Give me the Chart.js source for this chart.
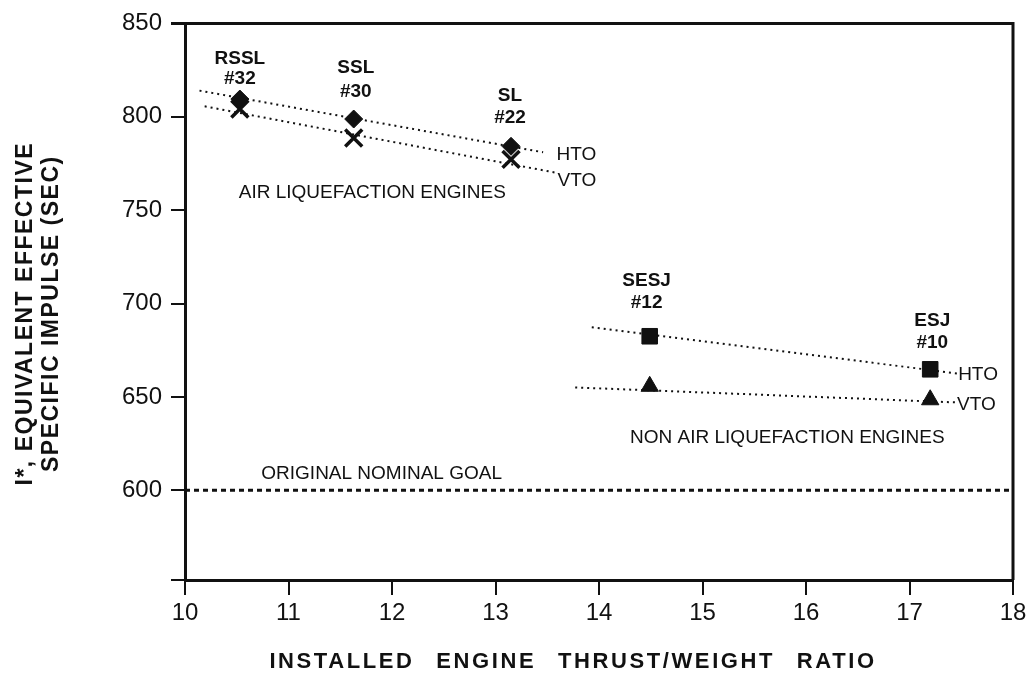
<!DOCTYPE html>
<html>
<head>
<meta charset="utf-8">
<script src="https://cdn.jsdelivr.net/npm/chart.js@4.4.1/dist/chart.umd.min.js"></script>
<style>
  html, body { margin: 0; padding: 0; background: #fff; }
  #wrap { width: 1034px; height: 675px; }
</style>
</head>
<body>
<div id="wrap"><canvas id="chart"></canvas></div>
<script>
// Axes
const xMin = 10, xMax = 18;
const yMin = 552, yMax = 850;
const xTicks = [10, 11, 12, 13, 14, 15, 16, 17, 18];
const yTicks = [600, 650, 700, 750, 800, 850];

// Air liquefaction engines (RSSL #32, SSL #30, SL #22)
const airRatio = [10.53, 11.63, 13.15];
const airHto = [809.5, 798.8, 784.2];
const airVto = [804.2, 788.6, 777.2];

// Non air liquefaction engines (SESJ #12, ESJ #10)
const nonAirRatio = [14.49, 17.2];
const nonAirHto = [682.5, 664.8];
const nonAirVto = [655.7, 648.5];

// Dotted trend lines (start, end)
const airHtoTrendX = [10.14, 13.46], airHtoTrendY = [814, 781];
const airVtoTrendX = [10.19, 13.57], airVtoTrendY = [805.6, 770.2];
const nonAirHtoTrendX = [13.93, 17.46], nonAirHtoTrendY = [687.3, 662.6];
const nonAirVtoTrendX = [13.77, 17.44], nonAirVtoTrendY = [655.1, 647.1];

// Original nominal goal
const goalValue = 600;

// Text placed in data units
const notes = [
    { text: 'RSSL', x: 10.53, y: 831.3, bold: true },
    { text: '#32', x: 10.53, y: 820.3, bold: true },
    { text: 'SSL', x: 11.65, y: 826.4, bold: true },
    { text: '#30', x: 11.65, y: 813.2, bold: true },
    { text: 'SL', x: 13.14, y: 811.5, bold: true },
    { text: '#22', x: 13.14, y: 799.7, bold: true },
    { text: 'SESJ', x: 14.46, y: 712.4, bold: true },
    { text: '#12', x: 14.46, y: 700.2, bold: true },
    { text: 'ESJ', x: 17.22, y: 691, bold: true },
    { text: '#10', x: 17.22, y: 679.2, bold: true },
    { text: 'HTO', x: 13.59, y: 779.9, align: 'left' },
    { text: 'VTO', x: 13.6, y: 766, align: 'left' },
    { text: 'HTO', x: 17.47, y: 662, align: 'left' },
    { text: 'VTO', x: 17.46, y: 646, align: 'left' },
    { text: 'AIR LIQUEFACTION ENGINES', x: 11.81, y: 759.5 },
    { text: 'NON AIR LIQUEFACTION ENGINES', x: 15.82, y: 628.4 },
    { text: 'ORIGINAL NOMINAL GOAL', x: 11.9, y: 609 }
];

const yTitle = ['I*, EQUIVALENT EFFECTIVE', 'SPECIFIC IMPULSE (SEC)'];
const xTitle = 'INSTALLED ENGINE THRUST/WEIGHT RATIO';

const ink = '#111';
const FONT = "'Liberation Sans', Arial, Helvetica, sans-serif";

const toXY = (xs, ys) => xs.map((x, i) => ({ x: x, y: ys[i] }));

function trend(xs, ys) {
    return {
        type: 'line', data: toXY(xs, ys),
        borderColor: ink, borderWidth: 2, borderDash: [2, 4],
        pointRadius: 0, fill: false, order: 2
    };
}

function marks(xs, ys, style, radius, filled) {
    return {
        type: 'scatter', data: toXY(xs, ys),
        pointStyle: style, pointRadius: radius, pointHoverRadius: radius,
        backgroundColor: ink, borderColor: ink,
        pointBorderWidth: filled ? 1 : 3.5, order: 1
    };
}

// Frame, notes and axis titles
const decorations = {
    id: 'decorations',
    afterDraw(chart) {
        const { ctx, chartArea: a, scales } = chart;
        const sx = scales.x, sy = scales.y;
        ctx.save();
        ctx.strokeStyle = ink;
        ctx.lineWidth = 3;
        ctx.beginPath();
        ctx.moveTo(a.left - 14, a.top);
        ctx.lineTo(a.right, a.top);
        ctx.lineTo(a.right, a.bottom);
        ctx.stroke();

        ctx.fillStyle = ink;
        ctx.textBaseline = 'middle';
        notes.forEach(n => {
            ctx.font = (n.bold ? 'bold 19px ' : '19px ') + FONT;
            ctx.textAlign = n.align || 'center';
            ctx.fillText(n.text, sx.getPixelForValue(n.x), sy.getPixelForValue(n.y));
        });

        // y title
        ctx.font = 'bold 23px ' + FONT;
        ctx.letterSpacing = '1.5px';
        ctx.textAlign = 'center';
        const cy = (a.top + a.bottom) / 2 + 12;
        [26, 52].forEach((px, i) => {
            ctx.save();
            ctx.translate(px, cy);
            ctx.rotate(-Math.PI / 2);
            ctx.fillText(yTitle[i], 0, 0);
            ctx.restore();
        });

        // x title
        ctx.font = 'bold 22px ' + FONT;
        ctx.letterSpacing = '2.6px';
        ctx.wordSpacing = '13px';
        ctx.fillText(xTitle, 573, 662);
        ctx.restore();
    }
};

new Chart(document.getElementById('chart'), {
    data: {
        datasets: [
            trend(airHtoTrendX, airHtoTrendY),
            trend(airVtoTrendX, airVtoTrendY),
            trend(nonAirHtoTrendX, nonAirHtoTrendY),
            trend(nonAirVtoTrendX, nonAirVtoTrendY),
            {
                type: 'line', data: [{ x: xMin, y: goalValue }, { x: xMax, y: goalValue }],
                borderColor: ink, borderWidth: 3, borderDash: [5, 4],
                pointRadius: 0, fill: false, order: 2
            },
            marks(airRatio, airHto, 'rectRot', 9, true),
            marks(airRatio, airVto, 'crossRot', 12, false),
            marks(nonAirRatio, nonAirHto, 'rect', 11, true),
            marks(nonAirRatio, nonAirVto, 'triangle', 10, true)
        ]
    },
    plugins: [decorations],
    options: {
        responsive: true,
        maintainAspectRatio: false,
        animation: false,
        events: [],
        layout: { padding: { top: 23, right: 21, left: 0, bottom: 0 } },
        plugins: { legend: { display: false }, tooltip: { enabled: false } },
        scales: {
            x: {
                type: 'linear', min: xMin, max: xMax,
                afterBuildTicks: axis => { axis.ticks = xTicks.map(v => ({ value: v })); },
                afterFit: axis => { axis.height = 95; },
                grid: { drawOnChartArea: false, drawTicks: true, tickLength: 15, color: ink, lineWidth: 2 },
                border: { display: true, color: ink, width: 3 },
                ticks: { color: ink, padding: 4, maxRotation: 0, font: { family: FONT, size: 24 } }
            },
            y: {
                type: 'linear', min: yMin, max: yMax,
                afterBuildTicks: axis => { axis.ticks = [yMin].concat(yTicks).map(v => ({ value: v })); },
                afterFit: axis => { axis.width = 185; },
                grid: { drawOnChartArea: false, drawTicks: true, tickLength: 14, color: ink, lineWidth: 2 },
                border: { display: true, color: ink, width: 3 },
                ticks: {
                    color: ink, padding: 9, font: { family: FONT, size: 24 },
                    callback: v => (yTicks.includes(v) ? String(v) : '')
                }
            }
        }
    }
});
</script>
</body>
</html>
